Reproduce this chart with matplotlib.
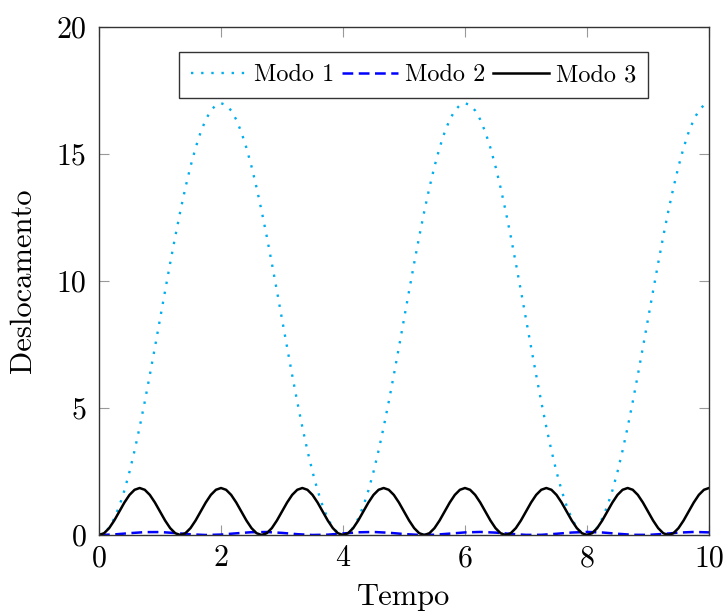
import numpy as np
import matplotlib
matplotlib.use("Agg")
import matplotlib.pyplot as plt

plt.rcParams['font.family'] = 'serif'
plt.rcParams['font.serif'] = ['cmr10', 'DejaVu Serif']
plt.rcParams['mathtext.fontset'] = 'cm'
plt.rcParams['axes.formatter.use_mathtext'] = True

# time grid for Modo 1 and Modo 3 (step 1/12)
t13 = [k / 12 for k in range(121)]

half1 = [0.0, 0.073, 0.290, 0.647, 1.139, 1.757, 2.490, 3.325, 4.250, 5.247, 6.300,
         7.390, 8.500, 9.610, 10.700, 11.753, 12.750, 13.675, 14.510, 15.243, 15.861,
         16.353, 16.710, 16.927]
modo1 = (half1 + [17.0] + half1[::-1][:-1]) * 2 + half1 + [17.0]

half3 = [0.0, 0.070, 0.271, 0.571, 0.925, 1.279, 1.579, 1.780]
modo3 = (half3 + [1.850] + half3[::-1][:-1]) * 7 + half3 + [1.850]

# time grid for Modo 2 (step 0.25)
t2 = [k * 0.25 for k in range(41)]
modo2 = [0.000, 0.022, 0.072, 0.113, 0.116, 0.078, 0.027, 0.000, 0.017, 0.066,
         0.110, 0.117, 0.083, 0.032, 0.001, 0.013, 0.060, 0.106, 0.119, 0.089,
         0.038, 0.003, 0.010, 0.054, 0.102, 0.120, 0.094, 0.043, 0.005, 0.007,
         0.048, 0.097, 0.120, 0.099, 0.049, 0.008, 0.004, 0.042, 0.093, 0.120, 0.103]

labels = ['Modo 1', 'Modo 2', 'Modo 3']
xticks = [0, 2, 4, 6, 8, 10]
yticks = [0, 5, 10, 15, 20]

fig = plt.figure(figsize=(7.28, 6.14), dpi=100)
ax = fig.add_axes([99/728, 1-535/614, 610/728, 508/614])

ax.plot(t13, modo1, color='#00AEEF', lw=1.7, linestyle=(0, (1, 3.3)),
        dash_capstyle='butt', label=labels[0])
ax.plot(t2, modo2, color='#0000FF', lw=1.8, linestyle=(0, (4.3, 2.2)),
        label=labels[1])
ax.plot(t13, modo3, color='black', lw=1.8, label=labels[2])

ax.set_xlim(0, 10)
ax.set_ylim(0, 20)
ax.set_xticks(xticks)
ax.set_yticks(yticks)
ax.set_xticklabels([str(v) for v in xticks])
ax.set_yticklabels([str(v) for v in yticks])
ax.tick_params(direction='in', length=7.5, width=0.8, color='#999999',
               labelsize=21.5, top=True, right=True)
ax.tick_params(axis='x', pad=7)
ax.tick_params(axis='y', pad=9)
for s in ax.spines.values():
    s.set_linewidth(1.0)
    s.set_color('#333333')

ax.set_xlabel('Tempo', fontsize=22, labelpad=8)
ax.set_ylabel('Deslocamento', fontsize=22, labelpad=14)

leg = ax.legend(loc='upper left', bbox_to_anchor=((179-99)/610, 1-(52-27)/508), ncol=3,
                fontsize=17.5, frameon=True, fancybox=False, edgecolor='black',
                handlelength=2.3, handletextpad=0.3, columnspacing=0.3,
                borderpad=0.5, borderaxespad=0)
leg.get_frame().set_linewidth(1.0)

fig.savefig('out.png', dpi=100)
